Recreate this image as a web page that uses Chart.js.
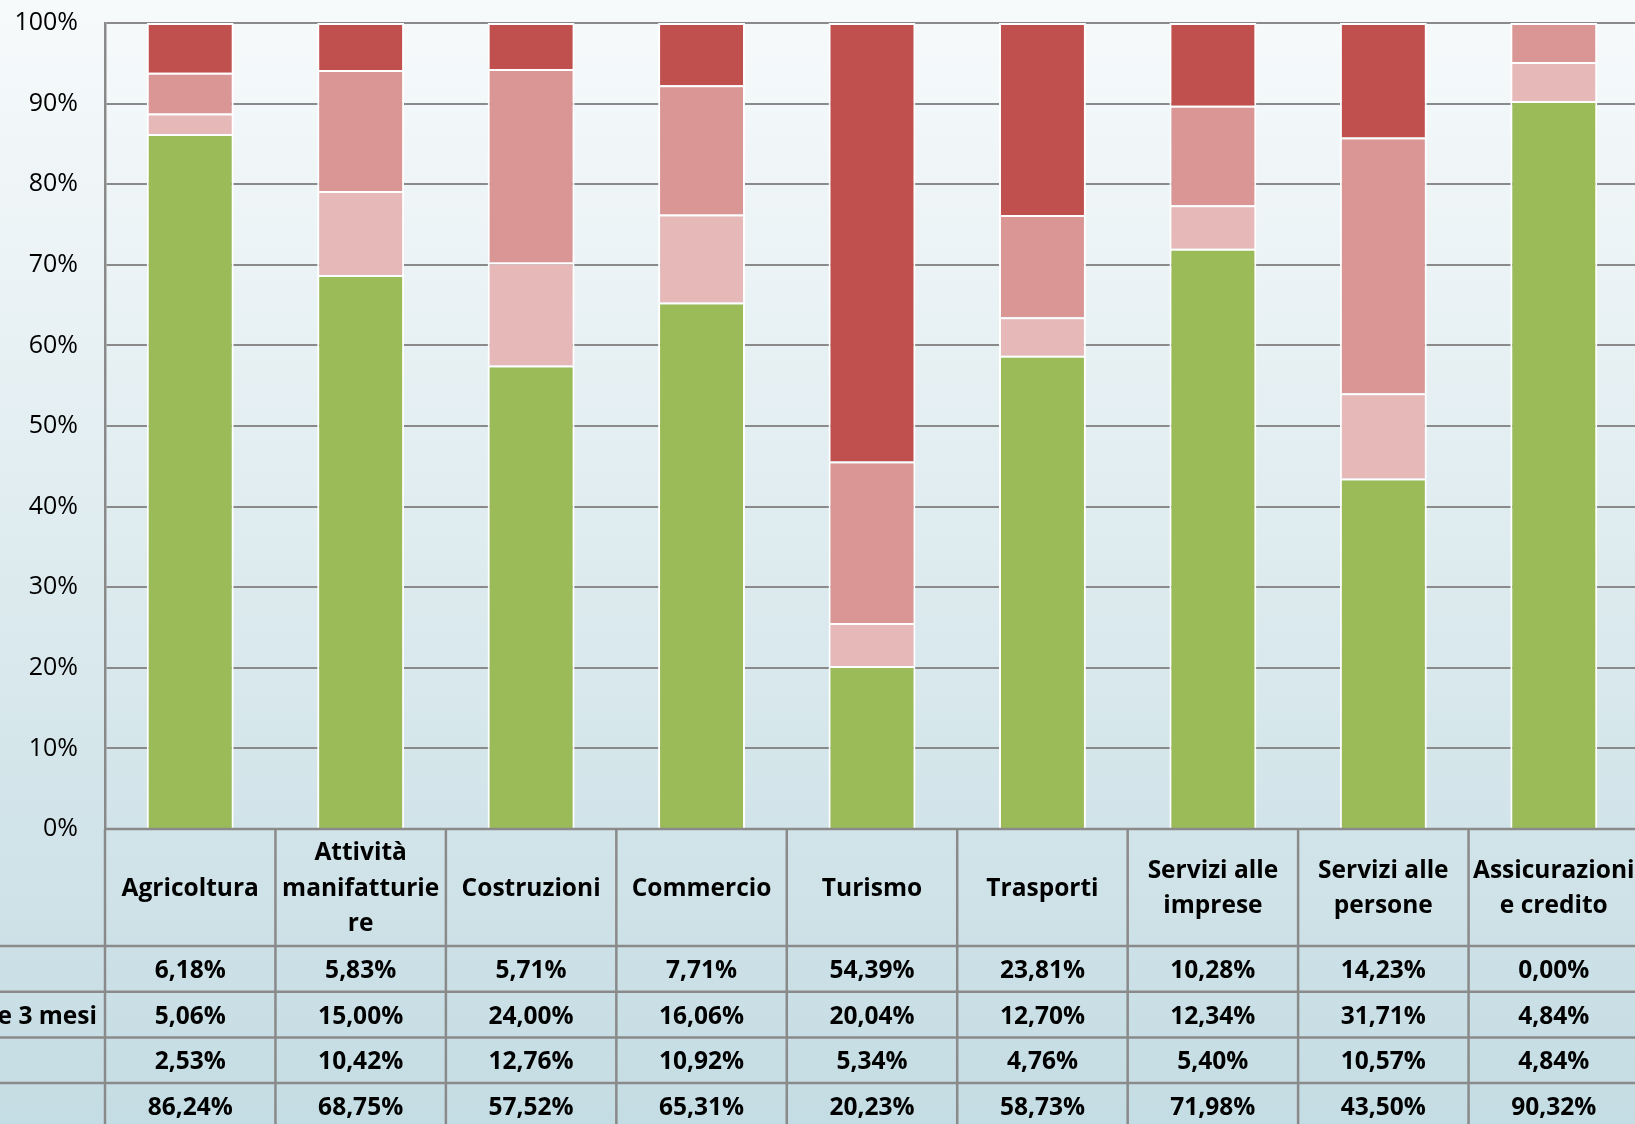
<!DOCTYPE html>
<html>
<head>
<meta charset="utf-8">
<script src="https://cdn.jsdelivr.net/npm/chart.js@4.4.0/dist/chart.umd.min.js"></script>
<style>
  html, body { margin: 0; padding: 0; overflow: hidden; width: 1635px; height: 1124px; background: #f6fafb; }
  #wrap { position: absolute; left: -400px; top: 0; }
</style>
</head>
<body>
<div id="wrap"><canvas id="myChart" width="2040" height="1140" style="width:2040px;height:1140px"></canvas></div>
<script>
// categories (header lines as wrapped in the original table)
const categories = [
  ['Agricoltura'],
  ['Attività', 'manifatturie', 're'],
  ['Costruzioni'],
  ['Commercio'],
  ['Turismo'],
  ['Trasporti'],
  ['Servizi alle', 'imprese'],
  ['Servizi alle', 'persone'],
  ['Assicurazioni', 'e credito']
];

// series labels (only the end of the second one is visible in the picture)
const seriesLabels = ['Meno di 1 mese', 'Durata compresa tra 1 e 3 mesi', 'Tra 3 e 6 mesi', 'Oltre 6 mesi'];

// values, in table order (top row first)
const darkRed   = [6.18, 5.83, 5.71, 7.71, 54.39, 23.81, 10.28, 14.23, 0.00];
const midPink   = [5.06, 15.00, 24.00, 16.06, 20.04, 12.70, 12.34, 31.71, 4.84];
const lightPink = [2.53, 10.42, 12.76, 10.92, 5.34, 4.76, 5.40, 10.57, 4.84];
const green     = [86.24, 68.75, 57.52, 65.31, 20.23, 58.73, 71.98, 43.50, 90.32];

const yTicks = [0, 10, 20, 30, 40, 50, 60, 70, 80, 90, 100];

const LEFT = 400;          // part of the canvas hidden off the left edge
const colors = ['#C0504D', '#D99694', '#E6B9B8', '#9BBB59'];
const rows = [darkRed, midPink, lightPink, green];
const FONT = "'Open Sans'";

const fmt = v => v.toFixed(2).replace('.', ',') + '%';

const bgPlugin = {
  id: 'bg',
  beforeDraw(chart) {
    const ctx = chart.ctx;
    const g = ctx.createLinearGradient(0, 0, 0, 1124);
    g.addColorStop(0, '#f7fafb');
    g.addColorStop(1, '#c4dce3');
    ctx.save();
    ctx.fillStyle = g;
    ctx.fillRect(0, 0, chart.width, chart.height);
    ctx.restore();
  }
};

const tablePlugin = {
  id: 'dataTable',
  afterDraw(chart) {
    const ctx = chart.ctx;
    const xs = chart.scales.x;
    const area = chart.chartArea;
    const colW = area.width / categories.length;
    const top = area.bottom;
    const rowsTop = top + 117;
    const rowH = 45.7;
    const bottom = rowsTop + rows.length * rowH;

    ctx.save();
    ctx.font = 'bold 24.5px ' + FONT;
    const labelW = ctx.measureText(seriesLabels[1]).width;
    const labelX = area.left - 8 - labelW;
    const keyX = labelX - 30;
    const tableLeft = keyX - 12;

    ctx.strokeStyle = '#8a8a8a';
    ctx.lineWidth = 2.5;
    ctx.beginPath();
    ctx.moveTo(area.left, top);
    ctx.lineTo(area.right + 5, top);
    for (let r = 0; r <= rows.length; r++) {
      const y = rowsTop + r * rowH;
      ctx.moveTo(tableLeft, y);
      ctx.lineTo(area.right + 5, y);
    }
    for (let i = 0; i <= categories.length; i++) {
      const x = area.left + i * colW;
      ctx.moveTo(x, top);
      ctx.lineTo(x, bottom);
    }
    ctx.moveTo(tableLeft, rowsTop);
    ctx.lineTo(tableLeft, bottom);
    ctx.stroke();

    ctx.textBaseline = 'middle';
    rows.forEach((vals, r) => {
      const cy = rowsTop + r * rowH + rowH / 2 + 2;
      ctx.fillStyle = colors[r];
      ctx.fillRect(keyX, cy - 8, 16, 16);
      ctx.fillStyle = '#000';
      ctx.textAlign = 'left';
      ctx.fillText(seriesLabels[r], labelX, cy);
      ctx.textAlign = 'center';
      vals.forEach((v, i) => ctx.fillText(fmt(v), xs.getPixelForValue(i), cy));
    });
    ctx.restore();
  }
};

// stacked bottom-up: green first, dark red on top
const datasets = [3, 2, 1, 0].map(r => ({
  label: seriesLabels[r],
  data: rows[r],
  backgroundColor: colors[r],
  borderColor: '#ffffff',
  borderWidth: 2,
  barPercentage: 0.51,
  categoryPercentage: 1.0
}));

const config = {
  type: 'bar',
  data: { labels: categories, datasets: datasets },
  options: {
    responsive: false,
    animation: false,
    layout: { padding: { top: 23, right: 1, bottom: 194, left: 0 } },
    plugins: { legend: { display: false }, tooltip: { enabled: false } },
    scales: {
      x: {
        stacked: true,
        grid: { display: false, drawTicks: false },
        border: { display: false },
        ticks: {
          color: '#000',
          font: { family: FONT, size: 24.5, weight: 'bold', lineHeight: 1.45 },
          padding: 24,
          crossAlign: 'center',
          maxRotation: 0,
          autoSkip: false
        },
        afterFit(scale) {
          scale.height = 117;
          scale.paddingLeft = 0;
          scale.paddingRight = 0;
        }
      },
      y: {
        stacked: true,
        min: 0,
        max: 100,
        afterBuildTicks(scale) { scale.ticks = yTicks.map(v => ({ value: v })); },
        ticks: {
          color: '#000',
          font: { family: FONT, size: 25 },
          padding: 27,
          callback: v => v + '%'
        },
        grid: { color: '#8a8a8a', lineWidth: 2, drawTicks: false },
        border: { color: '#8a8a8a', width: 2.5 },
        afterFit(scale) {
          scale.width = LEFT + 105;
          scale.paddingTop = 0;
          scale.paddingBottom = 0;
        }
      }
    }
  },
  plugins: [bgPlugin, tablePlugin]
};

var myChart = new Chart(document.getElementById('myChart'), config);
</script>
</body>
</html>
